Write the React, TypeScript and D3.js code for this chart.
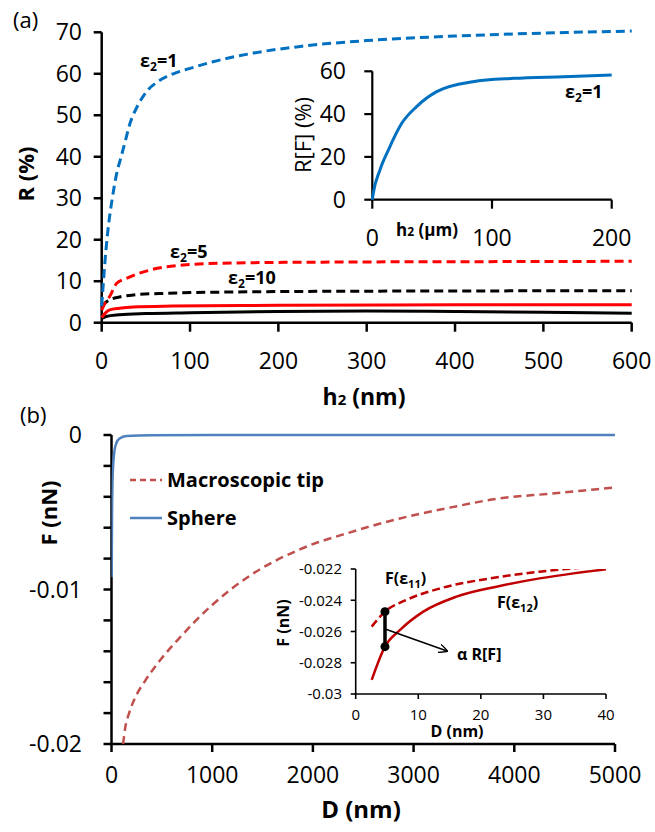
import React from 'react';
import * as d3 from 'd3';

const FONT = "'Open Sans', sans-serif";

// ---------- Panel (a) data ----------
const hEps1 = [0, 2, 5, 8, 12, 17, 22, 27, 32, 40, 52, 65, 81, 100, 126, 172, 225, 300, 400, 500, 600];
const rEps1 = [4, 10, 18, 24, 30, 36, 40, 44, 48, 52, 56, 58.3, 60, 61.3, 62.9, 65, 66.6, 68, 69.1, 69.8, 70.3];
const hEps5 = [0, 4, 9, 17, 28, 55, 92, 150, 250, 400, 600];
const rEps5 = [3, 4.8, 6.3, 9.5, 10.7, 12.7, 13.9, 14.4, 14.6, 14.7, 14.8];
const hEps10 = [0, 4, 9, 20, 36, 74, 150, 300, 600];
const rEps10 = [3.8, 4.8, 5.5, 6.2, 6.7, 7.1, 7.4, 7.6, 7.7];
const hRedSolid = [0, 4, 9, 20, 36, 80, 200, 400, 600];
const rRedSolid = [1.2, 2.3, 3.1, 3.5, 3.8, 4.0, 4.2, 4.3, 4.3];
const hBlackSolid = [0, 5, 20, 50, 100, 200, 300, 400, 500, 600];
const rBlackSolid = [1.0, 1.5, 1.9, 2.2, 2.4, 2.7, 2.8, 2.7, 2.5, 2.3];
const aXTicks = [0, 100, 200, 300, 400, 500, 600];
const aYTicks = [0, 10, 20, 30, 40, 50, 60, 70];

// inset (a)
const hInset = [0, 0.8, 6.4, 13.4, 24.6, 37, 53.8, 84, 118, 160, 200];
const rInset = [0, 3, 13.9, 23.2, 35.7, 43.5, 50.5, 55.1, 56.7, 57.5, 58.3];
const iaXTicks = [0, 100, 200];
const iaYTicks = [0, 20, 40, 60];

// ---------- Panel (b) data ----------
const dSphere = [2, 5, 10, 18, 30, 50, 80, 150, 400, 1000, 5000];
const fSphere = [-0.0092, -0.0055, -0.003, -0.0018, -0.001, -0.0005, -0.00022, -0.00006, -0.00001, 0, 0];
const dTip = [115, 135, 175, 235, 335, 480, 680, 1000, 1375, 1870, 2370, 2865, 3360, 3860, 4355, 5000];
const fTip = [-0.02, -0.019, -0.018, -0.017, -0.0159, -0.0146, -0.0131, -0.011, -0.0091, -0.0074, -0.0063, -0.0054, -0.0047, -0.0041, -0.0038, -0.0034];
const bXTicks = [0, 1000, 2000, 3000, 4000, 5000];
const bYMajor = [0, -0.01, -0.02];
const bYMinor = [-0.002, -0.004, -0.006, -0.008, -0.012, -0.014, -0.016, -0.018];

// inset (b)
const dE11 = [2.56, 4.68, 8.1, 13.5, 21.5, 29.4, 34.8, 40];
const fE11 = [-0.02569, -0.02473, -0.02398, -0.02324, -0.0226, -0.02217, -0.02196, -0.0218];
const dE12 = [2.56, 4.68, 7.1, 10.8, 16.1, 22.5, 29.4, 34.8, 40];
const fE12 = [-0.0291, -0.02697, -0.0259, -0.02473, -0.02377, -0.02313, -0.0226, -0.02228, -0.02202];
const markD = 4.68;
const markTop = -0.02473;
const markBottom = -0.02697;
const arrowStart = [4.7, -0.02584];
const arrowEnd = [14.6, -0.02725];
const ibXTicks = [0, 10, 20, 30, 40];
const ibYTicks = [-0.022, -0.024, -0.026, -0.028, -0.03];
const ibYLabels = ['-0.022', '-0.024', '-0.026', '-0.028', '-0.03'];

const zip = (xs: number[], ys: number[]) => xs.map((x, i) => [x, ys[i]] as [number, number]);

export default function App() {
  // scales
  const ax = d3.scaleLinear().domain([0, 600]).range([101.7, 631.7]);
  const ay = d3.scaleLinear().domain([0, 70]).range([322.7, 32.3]);
  const iax = d3.scaleLinear().domain([0, 200]).range([372.3, 611.7]);
  const iay = d3.scaleLinear().domain([0, 60]).range([199.7, 71.3]);
  const bx = d3.scaleLinear().domain([0, 5000]).range([111.5, 615]);
  const by = d3.scaleLinear().domain([-0.02, 0]).range([744, 435]);
  const ibx = d3.scaleLinear().domain([0, 40]).range([355.7, 606]);
  const iby = d3.scaleLinear().domain([-0.03, -0.022]).range([694, 569]);

  const mk = (sx: any, sy: any) =>
    d3.line<[number, number]>().x((d) => sx(d[0])).y((d) => sy(d[1])).curve(d3.curveMonotoneX);
  const la = mk(ax, ay);
  const lia = mk(iax, iay);
  const lb = mk(bx, by);
  const lib = mk(ibx, iby);

  const tickFont = 23;

  return (
    <svg width={655} height={832} style={{ position: 'absolute', left: 0, top: 0, background: '#fff' }} fontFamily={FONT}>
      <defs>
        <clipPath id="clipIb">
          <rect x={ibx(0)} y={iby(-0.022)} width={ibx(40) - ibx(0) + 2} height={iby(-0.03) - iby(-0.022)} />
        </clipPath>
        <clipPath id="clipB">
          <rect x={bx(0)} y={by(0) - 10} width={bx(5000) - bx(0) + 5} height={by(-0.02) - by(0) + 10} />
        </clipPath>
        <marker id="arrowHead" viewBox="0 0 10 10" refX="9" refY="5" markerWidth="9" markerHeight="9" orient="auto" markerUnits="userSpaceOnUse">
          <path d="M0,0 L10,5 L0,10" fill="none" stroke="#000" strokeWidth={1.5} />
        </marker>
      </defs>

      {/* ===================== Panel (a) ===================== */}
      <text x={13} y={28} fontSize={22}>(a)</text>
      <line x1={ax(0)} x2={ax(0)} y1={ay(0)} y2={ay(70)} stroke="#000" strokeWidth={2.5} />
      <line x1={ax(0)} x2={ax(600)} y1={ay(0)} y2={ay(0)} stroke="#000" strokeWidth={2.5} />
      {aYTicks.map((t) => (
        <g key={'ay' + t}>
          <line x1={ax(0) - 8} x2={ax(0)} y1={ay(t)} y2={ay(t)} stroke="#000" strokeWidth={2.5} />
          <text x={82} y={ay(t)} dy="0.35em" textAnchor="end" fontSize={tickFont}>{t}</text>
        </g>
      ))}
      {aXTicks.map((t) => (
        <g key={'ax' + t}>
          <line x1={ax(t)} x2={ax(t)} y1={ay(0)} y2={ay(0) + 9} stroke="#000" strokeWidth={2.5} />
          <text x={ax(t)} y={361} dy="0.35em" textAnchor="middle" fontSize={tickFont}>{t}</text>
        </g>
      ))}
      <text transform="translate(34,174) rotate(-90)" textAnchor="middle" fontSize={22} fontWeight="bold">R (%)</text>
      <text x={364} y={405} textAnchor="middle" fontSize={23} fontWeight="bold">
        h<tspan fontSize={15}>2</tspan> (nm)
      </text>

      <path d={la(zip(hBlackSolid, rBlackSolid)) || ''} fill="none" stroke="#000" strokeWidth={3} />
      <path d={la(zip(hRedSolid, rRedSolid)) || ''} fill="none" stroke="#ff0000" strokeWidth={3} />
      <path d={la(zip(hEps10, rEps10)) || ''} fill="none" stroke="#000" strokeWidth={3} strokeDasharray="9,5" />
      <path d={la(zip(hEps5, rEps5)) || ''} fill="none" stroke="#ff0000" strokeWidth={3} strokeDasharray="9,5" />
      <path d={la(zip(hEps1, rEps1)) || ''} fill="none" stroke="#0070c0" strokeWidth={3} strokeDasharray="9,5" />

      <text x={140} y={67} fontSize={18} fontWeight="bold">
        ε<tspan fontSize={12} dy={4}>2</tspan><tspan dy={-4}>=1</tspan>
      </text>
      <text x={170} y={258} fontSize={18} fontWeight="bold">
        ε<tspan fontSize={12} dy={4}>2</tspan><tspan dy={-4}>=5</tspan>
      </text>
      <text x={228} y={284} fontSize={18} fontWeight="bold">
        ε<tspan fontSize={12} dy={4}>2</tspan><tspan dy={-4}>=10</tspan>
      </text>

      {/* inset (a) */}
      <line x1={iax(0)} x2={iax(0)} y1={iay(0)} y2={iay(60)} stroke="#000" strokeWidth={2.2} />
      <line x1={iax(0)} x2={iax(200)} y1={iay(0)} y2={iay(0)} stroke="#000" strokeWidth={2.2} />
      {iaYTicks.map((t) => (
        <g key={'iay' + t}>
          <line x1={iax(0) - 8} x2={iax(0)} y1={iay(t)} y2={iay(t)} stroke="#000" strokeWidth={2.2} />
          <text x={346} y={iay(t)} dy="0.35em" textAnchor="end" fontSize={tickFont}>{t}</text>
        </g>
      ))}
      {iaXTicks.map((t) => (
        <g key={'iax' + t}>
          <line x1={iax(t)} x2={iax(t)} y1={iay(0)} y2={iay(0) + 9} stroke="#000" strokeWidth={2.2} />
          <text x={iax(t)} y={238} dy="0.35em" textAnchor="middle" fontSize={tickFont}>{t}</text>
        </g>
      ))}
      <text transform="translate(311,135) rotate(-90)" textAnchor="middle" fontSize={22}>R[F] (%)</text>
      <text x={396} y={236} fontSize={17} fontWeight="bold">
        h<tspan fontSize={12}>2</tspan> (μm)
      </text>
      <path d={lia(zip(hInset, rInset)) || ''} fill="none" stroke="#0070c0" strokeWidth={3} />
      <text x={565} y={98} fontSize={18} fontWeight="bold">
        ε<tspan fontSize={12} dy={4}>2</tspan><tspan dy={-4}>=1</tspan>
      </text>

      {/* ===================== Panel (b) ===================== */}
      <text x={20} y={423} fontSize={22}>(b)</text>
      <line x1={bx(0)} x2={bx(0)} y1={by(0)} y2={by(-0.02)} stroke="#000" strokeWidth={2.5} />
      <line x1={bx(0)} x2={bx(5000)} y1={by(-0.02)} y2={by(-0.02)} stroke="#000" strokeWidth={2.5} />
      {bYMajor.map((t, i) => (
        <g key={'bym' + i}>
          <line x1={bx(0) - 8} x2={bx(0)} y1={by(t)} y2={by(t)} stroke="#000" strokeWidth={2.5} />
          <text x={82} y={by(t)} dy="0.35em" textAnchor="end" fontSize={tickFont}>{t === 0 ? '0' : String(t)}</text>
        </g>
      ))}
      {bYMinor.map((t, i) => (
        <line key={'byn' + i} x1={bx(0) - 8} x2={bx(0)} y1={by(t)} y2={by(t)} stroke="#000" strokeWidth={2.5} />
      ))}
      {bXTicks.map((t) => (
        <g key={'bx' + t}>
          <line x1={bx(t)} x2={bx(t)} y1={by(-0.02)} y2={by(-0.02) + 8} stroke="#000" strokeWidth={2.5} />
          <text x={bx(t)} y={775} dy="0.35em" textAnchor="middle" fontSize={tickFont}>{t}</text>
        </g>
      ))}
      <text transform="translate(57,513) rotate(-90)" textAnchor="middle" fontSize={22} fontWeight="bold">F (nN)</text>
      <text x={361} y={818} textAnchor="middle" fontSize={24} fontWeight="bold">D (nm)</text>

      <g clipPath="url(#clipB)">
        <path d={lb(zip(dTip, fTip)) || ''} fill="none" stroke="#c0504d" strokeWidth={2.5} strokeDasharray="8,5" />
        <path d={lb(zip(dSphere, fSphere)) || ''} fill="none" stroke="#4f81bd" strokeWidth={2.5} />
      </g>

      {/* legend */}
      <line x1={130} x2={162} y1={480} y2={480} stroke="#c0504d" strokeWidth={2.5} strokeDasharray="6,4" />
      <text x={167} y={487} fontSize={20} fontWeight="bold">Macroscopic tip</text>
      <line x1={130} x2={162} y1={518} y2={518} stroke="#4f81bd" strokeWidth={2.5} />
      <text x={167} y={525} fontSize={20} fontWeight="bold">Sphere</text>

      {/* inset (b) */}
      <line x1={ibx(0)} x2={ibx(0)} y1={iby(-0.022)} y2={iby(-0.03)} stroke="#000" strokeWidth={1.6} />
      <line x1={ibx(0)} x2={ibx(40)} y1={iby(-0.03)} y2={iby(-0.03)} stroke="#000" strokeWidth={1.6} />
      {ibYTicks.map((t, i) => (
        <g key={'iby' + i}>
          <line x1={ibx(0) - 5} x2={ibx(0)} y1={iby(t)} y2={iby(t)} stroke="#000" strokeWidth={1.6} />
          <text x={342} y={iby(t)} dy="0.35em" textAnchor="end" fontSize={15}>{ibYLabels[i]}</text>
        </g>
      ))}
      {ibXTicks.map((t) => (
        <g key={'ibx' + t}>
          <line x1={ibx(t)} x2={ibx(t)} y1={iby(-0.03)} y2={iby(-0.03) + 5} stroke="#000" strokeWidth={1.6} />
          <text x={ibx(t)} y={715} dy="0.35em" textAnchor="middle" fontSize={15}>{t}</text>
        </g>
      ))}
      <text transform="translate(289,623) rotate(-90)" textAnchor="middle" fontSize={16} fontWeight="bold">F (nN)</text>
      <text x={457} y={737} textAnchor="middle" fontSize={16} fontWeight="bold">D (nm)</text>

      <g clipPath="url(#clipIb)">
        <path d={lib(zip(dE11, fE11)) || ''} fill="none" stroke="#c00000" strokeWidth={2.5} strokeDasharray="8,4" />
        <path d={lib(zip(dE12, fE12)) || ''} fill="none" stroke="#c00000" strokeWidth={2.5} />
      </g>
      <line x1={ibx(markD)} x2={ibx(markD)} y1={iby(markTop)} y2={iby(markBottom)} stroke="#000" strokeWidth={3.5} />
      <circle cx={ibx(markD)} cy={iby(markTop)} r={4.5} fill="#000" />
      <circle cx={ibx(markD)} cy={iby(markBottom)} r={4.5} fill="#000" />
      <line x1={ibx(arrowStart[0])} y1={iby(arrowStart[1])} x2={ibx(arrowEnd[0])} y2={iby(arrowEnd[1])} stroke="#000" strokeWidth={1.5} markerEnd="url(#arrowHead)" />
      <text x={457} y={660} fontSize={16} fontWeight="bold">α R[F]</text>
      <text x={385} y={584} fontSize={16} fontWeight="bold">
        F(ε<tspan fontSize={11} dy={4}>11</tspan><tspan dy={-4}>)</tspan>
      </text>
      <text x={497} y={608} fontSize={16} fontWeight="bold">
        F(ε<tspan fontSize={11} dy={4}>12</tspan><tspan dy={-4}>)</tspan>
      </text>
    </svg>
  );
}
